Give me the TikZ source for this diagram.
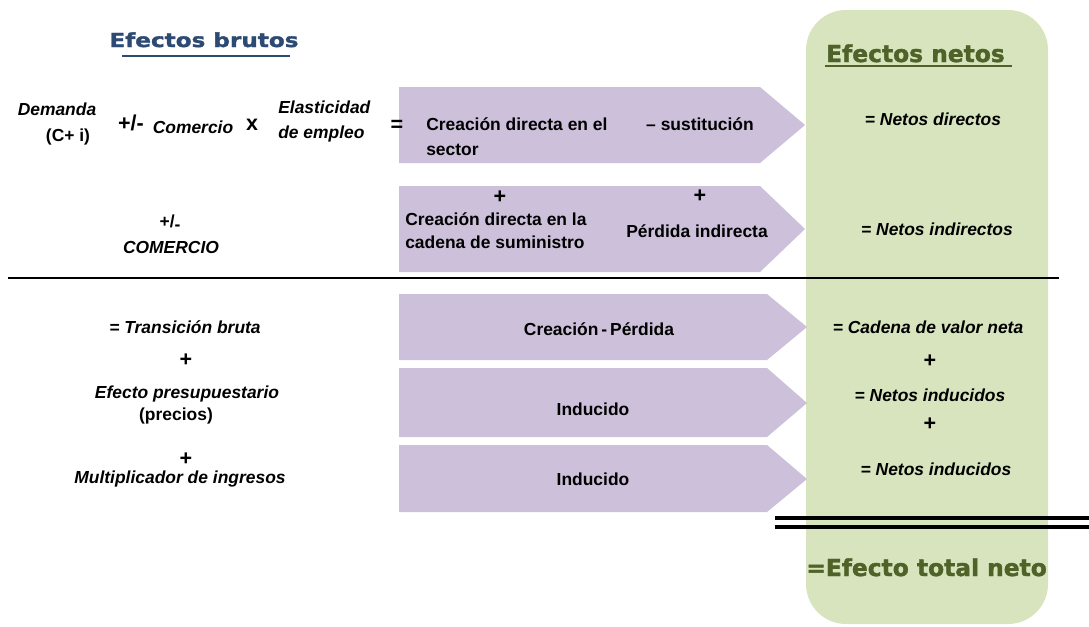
\documentclass[tikz,border=0pt]{standalone}
\usepackage{fontspec}
\setmainfont{Liberation Sans}
\newfontfamily\headfont{DejaVu Sans}[BoldFeatures={FakeBold=1.6}]
\newfontfamily\headwide{DejaVu Sans}[BoldFeatures={FakeBold=1.6,FakeStretch=1.2}]
\usepackage{xcolor}
\usepackage{tikz}
\definecolor{headblue}{HTML}{2C4A72}
\definecolor{headgreen}{HTML}{4F6228}
\definecolor{netfill}{HTML}{D7E4BD}
\definecolor{bandfill}{HTML}{CCC0DA}
\newcommand{\txtsize}{\fontsize{12.4}{15}\selectfont}
\newcommand{\opsize}{\fontsize{15.3}{17}\selectfont}
\newcommand{\headsize}{\fontsize{16.6}{19}\selectfont}

\begin{document}
\begin{tikzpicture}[x=0.025cm,y=-0.025cm,
    lbl/.style={font=\txtsize\bfseries, inner sep=0pt, anchor=base},
    ilbl/.style={font=\txtsize\bfseries\itshape, inner sep=0pt, anchor=base},
    op/.style={font=\opsize\bfseries, inner sep=0pt, anchor=base},
    head/.style={font=\headsize\headfont\bfseries, text=headgreen, inner sep=0pt, anchor=base},
    band/.style={fill=bandfill}]
                \useasboundingbox (0,0) rectangle (1089,626);

                % Net effects column
                \fill[netfill, rounded corners=1cm] (806,10) rectangle (1048,624);

                % Bands
                \fill[band] (399,87) -- (760,87) -- (805,125) -- (760,163) -- (399,163) -- cycle;
                \fill[band] (399,186) -- (760,186) -- (805,229) -- (760,272) -- (399,272) -- cycle;
                \fill[band] (399,294) -- (767,294) -- (807,327) -- (767,360) -- (399,360) -- cycle;
                \fill[band] (399,368) -- (767,368) -- (807,403) -- (767,437) -- (399,437) -- cycle;
                \fill[band] (399,445) -- (767,445) -- (807,479) -- (767,512) -- (399,512) -- cycle;

                % Separators
                \draw[black, line width=2.1pt] (8,278) -- (1059,278);
                \draw[black, line width=2.8pt] (775,518) -- (1089,518);
                \draw[black, line width=2.8pt] (775,527) -- (1089,527);

                % Titles
                \node[font=\fontsize{13.7}{16}\selectfont\headwide\bfseries, text=headblue, inner sep=0pt, anchor=base] (brutos) at (204,47) {Efectos brutos};
                \draw[headblue, line width=1.5pt] (122,56) -- (290,56);
                \node[head] (netos) at (915.5,62) {Efectos netos};
                \draw[headgreen, line width=1.5pt] (825,66) -- (1012,66);

                % Direct row
                \node[ilbl] (demanda) at (57,115) {Demanda};
                \node[lbl] (ci) at (68,141) {(C+ i)};
                \node[op] (pmone) at (131,130) {+/-};
                \node[ilbl] (comercio) at (193,133) {Comercio};
                \node[op] (times) at (252,130) {x};
                \node[ilbl, anchor=base west] (elast) at (278,113) {Elasticidad};
                \node[ilbl, anchor=base west] (empleo) at (278,138) {de empleo};
                \node[op] (eqone) at (397,131) {=};
                \node[lbl, anchor=base west] (crdir) at (426,130) {Creación directa en el};
                \node[lbl, anchor=base west] (sector) at (426,155) {sector};
                \node[lbl] (sust) at (700,130) {– sustitución};
                \node[ilbl] (netdir) at (933,125) {= Netos directos};

                % Indirect row
                \node[lbl] (pmtwo) at (170,227) {+/\raisebox{-2.5pt}{-}};
                \node[ilbl] (comtwo) at (171,253) {COMERCIO};
                \node[op] (plusa) at (500,203) {+};
                \node[lbl, anchor=base west] (crcad) at (405,225) {Creación directa en la};
                \node[lbl, anchor=base west] (cadena) at (405,248) {cadena de suministro};
                \node[op] (plusb) at (700,202) {+};
                \node[lbl] (perdida) at (697,237) {Pérdida indirecta};
                \node[ilbl] (netind) at (937,235) {= Netos indirectos};

                % Lower rows
                \node[ilbl] (transicion) at (185,333) {= Transición bruta};
                \node[op] (plusc) at (186,366) {+};
                \node[ilbl] (presup) at (187,398) {Efecto presupuestario};
                \node[lbl] (precios) at (176,420) {(precios)};
                \node[op] (plusd) at (186,465) {+};
                \node[ilbl] (multip) at (180,483) {Multiplicador de ingresos};

                \node[lbl] (crper) at (599,335) {Creación\,-\,Pérdida};
                \node[lbl] (indone) at (593,415) {Inducido};
                \node[lbl] (indtwo) at (593,485) {Inducido};

                \node[ilbl] (cadval) at (928,333) {= Cadena de valor neta};
                \node[op] (pluse) at (930,367) {+};
                \node[ilbl] (netinda) at (930,401) {= Netos inducidos};
                \node[op] (plusf) at (930,430) {+};
                \node[ilbl] (netindb) at (936,475) {= Netos inducidos};

                % Total
                \node[head, anchor=base west] (total) at (806,576) {=Efecto total neto};
            \end{tikzpicture}
\end{document}
